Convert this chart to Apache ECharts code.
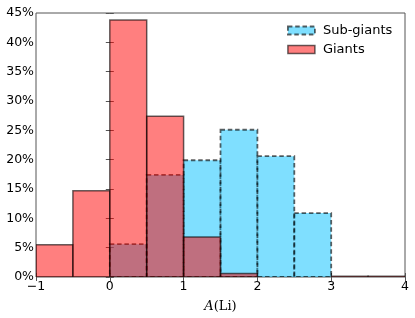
<!DOCTYPE html>
<html><head><meta charset="utf-8">
<script src="https://cdn.jsdelivr.net/npm/echarts@6/dist/echarts.min.js"></script>
<style>html,body{margin:0;padding:0;background:#fff}#c{width:415px;height:318px}</style>
</head><body><div id="c"></div>
<script>
const binStarts = [-1, -0.5, 0, 0.5, 1, 1.5, 2, 2.5, 3, 3.5];
const binWidth = 0.5;
const giants = [5.5, 14.7, 43.8, 27.4, 6.8, 0.6, 0, 0, 0.12, 0.12];
const subGiants = [0, 0, 5.6, 17.4, 19.9, 25.1, 20.6, 10.9, 0, 0];
const xTickLabels = ['−1', '0', '1', '2', '3', '4'];
const seriesNames = ['Sub-giants', 'Giants'];

const blueFill = 'rgba(0,191,255,0.5)';
const blueEdge = 'rgba(0,0,0,0.62)';
const redFill = 'rgba(255,0,0,0.5)';
const redEdge = 'rgba(0,0,0,0.6)';

function toData(vals) {
  return binStarts.map((s, i) => [s, s + binWidth, vals[i]]).filter(d => d[2] > 0);
}
function makeRender(style) {
  return function (params, api) {
    const p0 = api.coord([api.value(0), api.value(2)]);
    const p1 = api.coord([api.value(1), 0]);
    return {
      type: 'rect',
      shape: { x: p0[0], y: p0[1], width: p1[0] - p0[0], height: p1[1] - p0[1] },
      style: style
    };
  };
}
const tickStyle = { show: true, inside: true, length: 4, lineStyle: { color: '#555', width: 1 } };
const font = 'DejaVu Sans';
const chart = echarts.init(document.getElementById('c'), null, { renderer: 'canvas' });
chart.setOption({
  animation: false,
  backgroundColor: '#fff',
  grid: { left: 36, right: 10, top: 13, bottom: 40, show: true, borderColor: '#555', borderWidth: 1, backgroundColor: 'transparent' },
  legend: {
    orient: 'vertical', left: 287, top: 24, padding: 0, icon: 'rect', itemWidth: 27, itemHeight: 8, itemGap: 6,
    selectedMode: false,
    textStyle: { fontFamily: font, fontSize: 13, color: '#000', padding: [0, 0, 0, 3] },
    data: [
      { name: seriesNames[0], itemStyle: { color: blueFill, borderColor: blueEdge, borderWidth: 1.8, borderType: [4.5, 2.8] } },
      { name: seriesNames[1], itemStyle: { color: redFill, borderColor: redEdge, borderWidth: 1.5 } }
    ]
  },
  xAxis: [
    { type: 'value', min: -1, max: 4, interval: 1, position: 'bottom',
      axisLine: { show: false }, splitLine: { show: false }, axisTick: tickStyle,
      axisLabel: { fontFamily: font, fontSize: 12.5, color: '#000', margin: 3,
        formatter: v => xTickLabels[Math.round(v + 1)] },
      name: '{i|A}{r|(Li)}', nameLocation: 'middle', nameGap: 23,
      nameTextStyle: { rich: {
        i: { fontFamily: 'DejaVu Serif', fontStyle: 'italic', fontSize: 13, color: '#000' },
        r: { fontFamily: 'DejaVu Serif', fontSize: 13, color: '#000' } } } },
    { type: 'value', min: -1, max: 4, interval: 1, position: 'top',
      axisLine: { show: false }, splitLine: { show: false }, axisTick: tickStyle, axisLabel: { show: false } }
  ],
  yAxis: [
    { type: 'value', min: 0, max: 45, interval: 5, position: 'left',
      axisLine: { show: false }, splitLine: { show: false }, axisTick: tickStyle,
      axisLabel: { fontFamily: font, fontSize: 12.5, color: '#000', margin: 2, formatter: v => v + '%' } },
    { type: 'value', min: 0, max: 45, interval: 5, position: 'right',
      axisLine: { show: false }, splitLine: { show: false }, axisTick: tickStyle, axisLabel: { show: false } }
  ],
  series: [
    { name: seriesNames[0], type: 'custom', xAxisIndex: 0, yAxisIndex: 0, clip: true,
      encode: { x: [0, 1], y: 2 }, data: toData(subGiants),
      itemStyle: { color: blueFill },
      renderItem: makeRender({ fill: blueFill, stroke: blueEdge, lineWidth: 1.8, lineDash: [4.5, 2.8] }) },
    { name: seriesNames[1], type: 'custom', xAxisIndex: 0, yAxisIndex: 0, clip: true,
      encode: { x: [0, 1], y: 2 }, data: toData(giants),
      itemStyle: { color: redFill },
      renderItem: makeRender({ fill: redFill, stroke: redEdge, lineWidth: 1.5 }) }
  ]
});
</script>
</body></html>
